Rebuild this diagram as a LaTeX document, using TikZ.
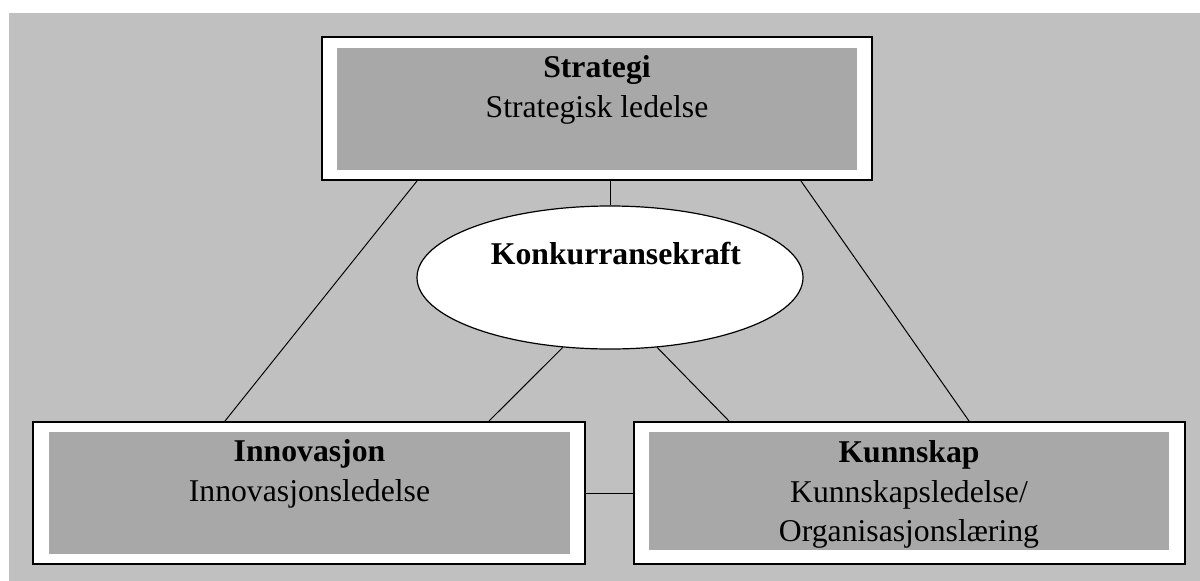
\documentclass[tikz,border=0pt]{standalone}
\usepackage{fontspec}
\setmainfont{Liberation Serif}
\usetikzlibrary{calc,shapes.geometric}
\definecolor{bggray}{HTML}{C0C0C0}
\definecolor{boxgray}{HTML}{A8A8A8}
\begin{document}
\begin{tikzpicture}[x=1pt,y=-1pt,
    outerbox/.style={rectangle,draw,line width=2pt,fill=white,inner sep=0pt},
    innerbox/.style={rectangle,fill=boxgray,inner sep=0pt},
    boxtext/.style={inner sep=0pt,anchor=base,font=\fontsize{31.7}{39.5}\selectfont},
    link/.style={line width=1pt}]
                 \useasboundingbox (0,0) rectangle (1200,581);
                 \fill[bggray] (9,13) rectangle (1200,581);
                 \node[outerbox,minimum width=550pt,minimum height=143pt](strat)at(597,108.5){};
                 \node[innerbox,minimum width=520pt,minimum height=122pt](strat-in)at(597,109){};
                 \node[outerbox,minimum width=552pt,minimum height=142pt](inno)at(309,493){};
                 \node[innerbox,minimum width=521pt,minimum height=122pt](inno-in)at(309.5,493){};
                 \node[outerbox,minimum width=551pt,minimum height=142pt](kunn)at(909.5,493){};
                 \node[innerbox,minimum width=520pt,minimum height=118pt](kunn-in)at(909,491){};
                 \node[ellipse,draw,line width=1.2pt,fill=white,inner sep=0pt,minimum width=386pt,minimum height=143pt](konk)at(610,277.5){};
                 \node[boxtext](strat-t)at(597,77){\textbf{Strategi}};
                 \node[boxtext](strat-s)at(597,117){Strategisk ledelse};
                 \node[boxtext](konk-t)at(616,264){\textbf{Konkurransekraft}};
                 \node[boxtext](inno-t)at(309.5,461){\textbf{Innovasjon}};
                 \node[boxtext](inno-s)at(309.5,501){Innovasjonsledelse};
                 \node[boxtext](kunn-t)at(909,462){\textbf{Kunnskap}};
                 \node[boxtext](kunn-s)at(909,502){Kunnskapsledelse/};
                 \node[boxtext](kunn-o)at(909,541){Organisasjonslæring};
                 \draw[link]($(strat.south west)+(96,0)$)--($(inno.north west)+(193,0)$);
                 \draw[link]($(strat.south west)+(480,0)$)--($(kunn.north west)+(336,0)$);
                 \draw[link](konk.north |- strat.south)--(konk.north);
                 \draw[link](konk.236)--($(inno.north west)+(457,0)$);
                 \draw[link](konk.-56)--($(kunn.north west)+(96,0)$);
                 \draw[link](inno.east)--(kunn.west);
               \end{tikzpicture}
\end{document}
